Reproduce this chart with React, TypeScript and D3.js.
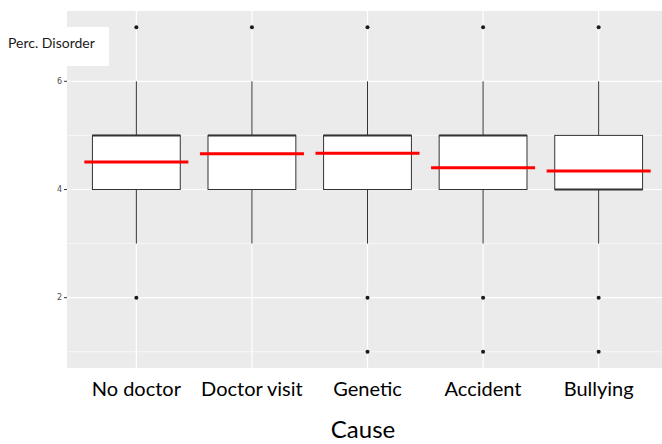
import * as d3 from 'd3'

const causes = ['No doctor', 'Doctor visit', 'Genetic', 'Accident', 'Bullying']
const q1 = [4, 4, 4, 4, 4]
const q3 = [5, 5, 5, 5, 5]
const medians = [5, 5, 5, 5, 4]
const whiskerLow = [3, 3, 3, 3, 3]
const whiskerHigh = [6, 6, 6, 6, 6]
const means = [4.51, 4.66, 4.67, 4.4, 4.34]
const outliers = [[7, 2], [7], [7, 2, 1], [7, 2, 1], [7, 2, 1]]
const majorTicks = [2, 4, 6]
const minorTicks = [1, 3, 5]

const W = 662
const H = 444
const panel = { left: 67, top: 11, right: 668, bottom: 368 }

export default function App() {
  const y = d3.scaleLinear().domain([0.7, 7.3]).range([panel.bottom, panel.top])
  const x = d3.scaleLinear().domain([0.4, causes.length + 0.6]).range([panel.left, panel.right])
  const step = x(2) - x(1)
  const boxW = step * 0.76
  const meanW = step * 0.9
  const font = 'Lato, "Open Sans", sans-serif'

  return (
    <svg
      width={W}
      height={H}
      style={{ position: 'absolute', left: 0, top: 0, display: 'block', background: '#fff' }}
      fontFamily={font}
    >
      <rect x={panel.left} y={panel.top} width={panel.right - panel.left} height={panel.bottom - panel.top} fill="#ebebeb" />

      {/* grid */}
      {minorTicks.map((t) => (
        <line key={'mi' + t} x1={panel.left} x2={panel.right} y1={y(t)} y2={y(t)} stroke="#fff" strokeWidth={0.6} />
      ))}
      {majorTicks.map((t) => (
        <line key={'ma' + t} x1={panel.left} x2={panel.right} y1={y(t)} y2={y(t)} stroke="#fff" strokeWidth={1.2} />
      ))}
      {causes.map((c, i) => (
        <line key={'vx' + c} x1={x(i + 1)} x2={x(i + 1)} y1={panel.top} y2={panel.bottom} stroke="#fff" strokeWidth={1.2} />
      ))}

      {/* boxes */}
      {causes.map((c, i) => {
        const cx = x(i + 1)
        return (
          <g key={c}>
            <line x1={cx} x2={cx} y1={y(whiskerHigh[i])} y2={y(q3[i])} stroke="#333" strokeWidth={1} />
            <line x1={cx} x2={cx} y1={y(q1[i])} y2={y(whiskerLow[i])} stroke="#333" strokeWidth={1} />
            <rect
              x={cx - boxW / 2}
              y={y(q3[i])}
              width={boxW}
              height={y(q1[i]) - y(q3[i])}
              fill="#fff"
              stroke="#333"
              strokeWidth={1}
            />
            <line x1={cx - boxW / 2} x2={cx + boxW / 2} y1={y(medians[i])} y2={y(medians[i])} stroke="#333" strokeWidth={2} />
            {outliers[i].map((v) => (
              <circle key={v} cx={cx} cy={y(v)} r={2} fill="#1a1a1a" />
            ))}
            <line x1={cx - meanW / 2} x2={cx + meanW / 2} y1={y(means[i])} y2={y(means[i])} stroke="#ff0000" strokeWidth={3} />
          </g>
        )
      })}

      {/* y axis */}
      {majorTicks.map((t) => (
        <g key={'yt' + t}>
          <line x1={panel.left - 3} x2={panel.left} y1={y(t)} y2={y(t)} stroke="#333" strokeWidth={1} />
          <text x={panel.left - 5} y={y(t)} dy="0.35em" textAnchor="end" fontSize={8} fill="#4d4d4d" fontFamily="'DejaVu Sans', sans-serif">
            {t}
          </text>
        </g>
      ))}

      {/* x labels */}
      {causes.map((c, i) => (
        <text key={'xl' + c} x={x(i + 1)} y={396} textAnchor="middle" fontSize={20} fill="#000">
          {c}
        </text>
      ))}
      <text x={363} y={438} textAnchor="middle" fontSize={24} fill="#000">
        Cause
      </text>

      {/* y title box */}
      <rect x={0} y={27} width={109} height={39} fill="#fff" />
      <text x={8} y={48} fontSize={14} fill="#1a1a1a">
        Perc. Disorder
      </text>
    </svg>
  )
}
